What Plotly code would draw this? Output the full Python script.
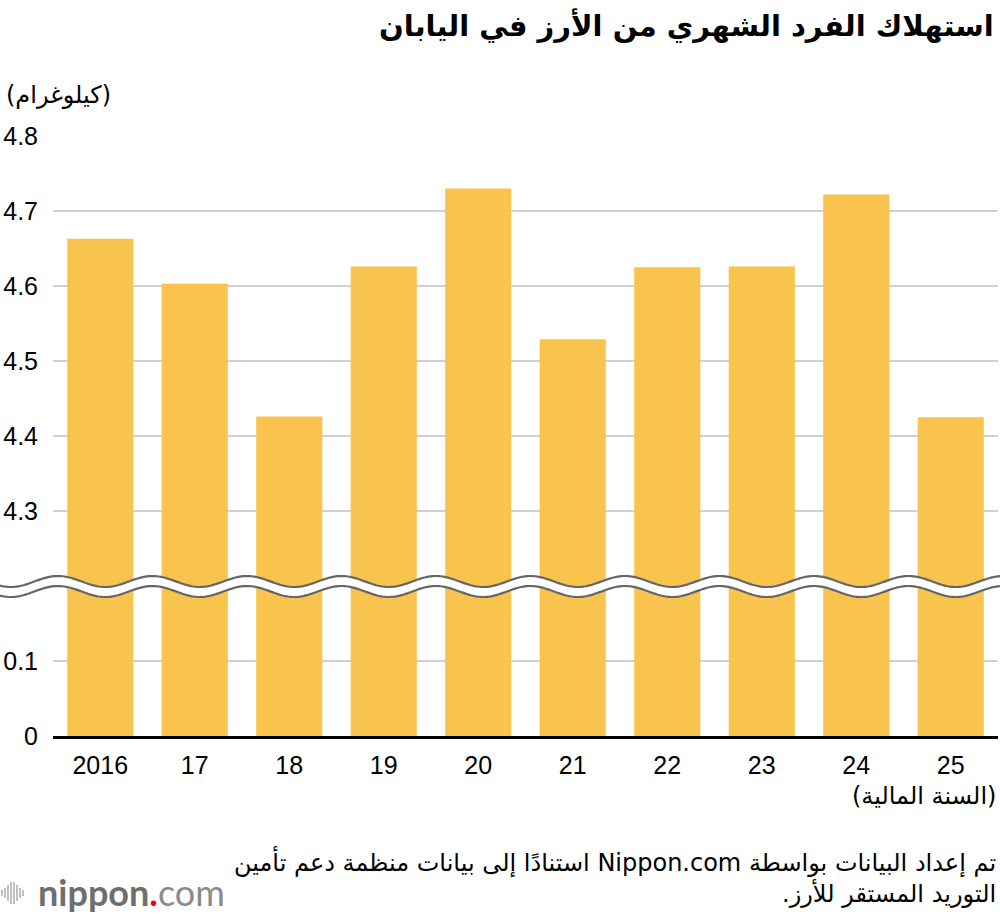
import numpy as np
import plotly.graph_objects as go

# ---------------- data ----------------
years = ["2016", "17", "18", "19", "20", "21", "22", "23", "24", "25"]
consumption_kg = [4.663, 4.603, 4.426, 4.626, 4.730, 4.529, 4.625, 4.626, 4.722, 4.425]
# broken axis: values above the break are shifted down by this amount
break_offset = 4.0
tick_positions = [0, 0.1, 0.3, 0.4, 0.5, 0.6, 0.7, 0.8]
tick_labels = ["0", "0.1", "4.3", "4.4", "4.5", "4.6", "4.7", "4.8"]

title_text = "استهلاك الفرد الشهري من الأرز في اليابان"
unit_text = "(كيلوغرام)"
xlabel_text = "(السنة المالية)"
source_lines = ["تم إعداد البيانات بواسطة Nippon.com استنادًا إلى بيانات منظمة دعم تأمين",
                "التوريد المستقر للأرز."]

# ---------------- layout constants ----------------
W, H = 1000, 914
ML, MR, MT, MB = 53, 2, 136, 178
PW, PH = W - ML - MR, H - MT - MB
Y_MAX = 0.8

def px_x(px):
    return (px - ML) / PW

def px_y(py):
    return (H - MB - py) / PH

def rtl(s):
    return "\u202B" + s + "\u202C"

plotted = [v - break_offset for v in consumption_kg]

fig = go.Figure()
fig.add_trace(go.Bar(
    x=years, y=plotted,
    marker=dict(color="#F8C44E", line=dict(width=0)),
    customdata=consumption_kg,
    hovertemplate="%{x}: %{customdata}<extra></extra>",
))

AR_FONT = "DejaVu Sans, Noto Sans, sans-serif"
NUM_FONT = "Liberation Sans, Arial, Helvetica, sans-serif"

fig.update_layout(
    width=W, height=H,
    margin=dict(l=ML, r=MR, t=MT, b=MB),
    paper_bgcolor="white", plot_bgcolor="white",
    bargap=0.3,
    showlegend=False,
    xaxis=dict(
        type="category", range=[-0.5, len(years) - 0.5],
        showgrid=False, showline=True, linecolor="black", linewidth=2.5,
        ticks="", tickfont=dict(family=NUM_FONT, size=25, color="black"),
        ticklabelstandoff=5,
    ),
    yaxis=dict(
        range=[0, Y_MAX], tickvals=tick_positions, ticktext=tick_labels,
        showgrid=True, gridcolor="#d0d0d0", gridwidth=1.5,
        zeroline=False, showline=False, ticks="",
        tickfont=dict(family=NUM_FONT, size=25, color="black"),
        ticklabelstandoff=14,
    ),
)

# ---------------- axis break (wavy band) ----------------
period_px = PW / len(years)
xs = np.linspace(-2, W + 2, 500)
crest0 = ML + 5
amp = 5.5
upper_c, lower_c = 581.5, 591.5
wave = -amp * np.cos(2 * np.pi * (xs - crest0) / period_px)
upper = upper_c + wave
lower = lower_c + wave

def poly(xpx, ypx):
    return " ".join(("M" if i == 0 else "L") + f"{px_x(a):.5f},{px_y(b):.5f}"
                    for i, (a, b) in enumerate(zip(xpx, ypx)))

band = poly(np.concatenate([xs, xs[::-1]]), np.concatenate([upper, lower[::-1]])) + " Z"
fig.add_shape(type="path", path=band, xref="paper", yref="paper",
              fillcolor="white", line=dict(width=0), layer="above")
for curve in (upper, lower):
    fig.add_shape(type="path", path=poly(xs, curve), xref="paper", yref="paper",
                  line=dict(color="#666666", width=2.2), layer="above")

# ---------------- texts ----------------
fig.add_annotation(text=f"<b>{rtl(title_text)}</b>", xref="paper", yref="paper",
                   x=px_x(996), y=px_y(26), xanchor="right", yanchor="middle",
                   showarrow=False, font=dict(family=AR_FONT, size=29, color="black"))
fig.add_annotation(text=rtl(unit_text), xref="paper", yref="paper",
                   x=px_x(4), y=px_y(95), xanchor="left", yanchor="middle",
                   showarrow=False, font=dict(family=AR_FONT, size=24, color="black"))
fig.add_annotation(text=rtl(xlabel_text), xref="paper", yref="paper",
                   x=px_x(998), y=px_y(796), xanchor="right", yanchor="middle",
                   showarrow=False, font=dict(family=AR_FONT, size=24, color="black"))
fig.add_annotation(text="<br>".join(rtl(s) for s in source_lines), xref="paper", yref="paper",
                   x=px_x(998), y=px_y(877), xanchor="right", yanchor="middle",
                   align="right", showarrow=False,
                   font=dict(family=AR_FONT, size=24, color="black"))

# ---------------- logo ----------------
fig.add_annotation(
    text="<b>nippon</b><span style='color:#e60012'><b>.</b></span><span style='color:#8a8a8a'>com</span>",
    xref="paper", yref="paper", x=px_x(36), y=px_y(892), xanchor="left", yanchor="middle",
    showarrow=False, font=dict(family="Lato, Open Sans, sans-serif", size=36, color="#6e6e6e"))
bar_x = [2, 5, 8, 11, 14, 17, 20, 23]
bar_h = [6, 10, 16, 22, 22, 16, 10, 6]
for bx, bh in zip(bar_x, bar_h):
    fig.add_shape(type="line", xref="paper", yref="paper",
                  x0=px_x(bx), x1=px_x(bx), y0=px_y(893 - bh / 2), y1=px_y(893 + bh / 2),
                  line=dict(color="#b0b0b0", width=1.6))

fig.write_html("out.html")
